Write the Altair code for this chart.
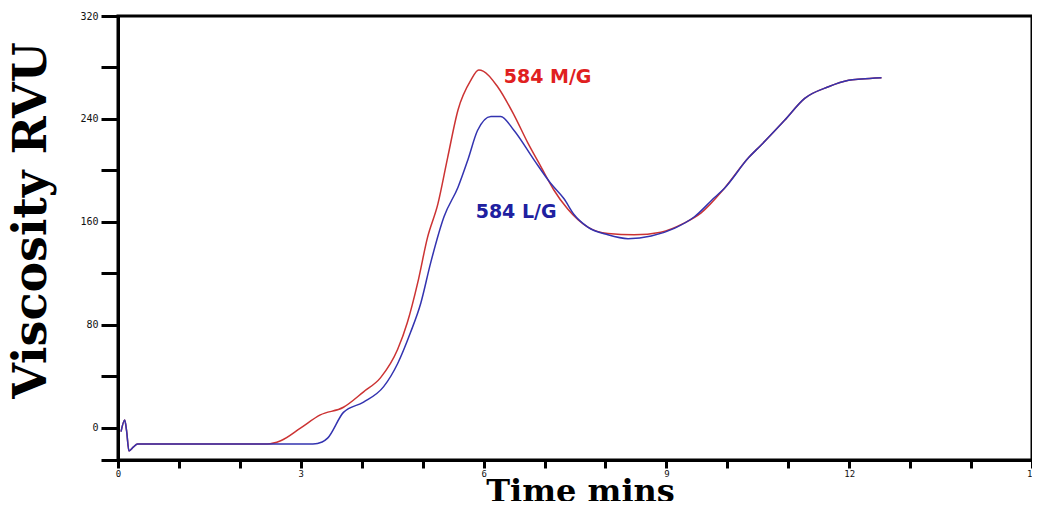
import altair as alt
import pandas as pd

# Series: 584 M/G (red)
mg_time = [0.05, 0.11, 0.14, 0.18, 0.25, 0.32, 1.0, 2.0, 2.45, 2.67, 3.0, 3.32, 3.7,
           4.03, 4.31, 4.59, 4.75, 4.92, 5.08, 5.25, 5.41, 5.58, 5.79, 5.92, 6.0,
           6.23, 6.5, 6.73, 6.94, 7.15, 7.38, 7.71, 8.04, 8.47, 8.91, 9.29, 9.57,
           9.95, 10.35, 10.56, 10.94, 11.27, 11.66, 11.99, 12.2, 12.53]
mg_visc = [-3, 6, -2, -18, -15, -12.5, -12.5, -12.5, -12.5, -10, 0, 10, 16,
           28, 39, 61, 82, 113, 148, 174, 210, 247, 270, 278, 277,
           265, 243, 221, 203, 185, 170, 156, 151, 150, 152, 159, 167,
           186, 210, 220, 239, 256, 265, 270, 271, 272]

# Series: 584 L/G (blue)
lg_time = [0.05, 0.11, 0.14, 0.18, 0.25, 0.32, 1.0, 2.0, 3.0, 3.2, 3.35, 3.44, 3.7,
           4.03, 4.36, 4.59, 4.8, 4.97, 5.13, 5.35, 5.58, 5.74, 5.9, 6.12, 6.28,
           6.5, 6.83, 7.1, 7.32, 7.48, 7.71, 8.04, 8.37, 8.75, 9.13, 9.46, 9.79,
           9.95, 10.35, 10.56, 10.94, 11.27, 11.66, 11.99, 12.2, 12.53]
lg_visc = [-3, 6, -2, -18, -15, -12.5, -12.5, -12.5, -12.5, -12.5, -11, -8, 12,
           20, 32, 50, 74, 97, 128, 164, 187, 208, 231, 242, 242,
           231, 208, 190, 178, 166, 156, 150, 147, 149, 155, 164, 179,
           186, 210, 220, 239, 256, 265, 270, 271, 272]

series_names = ["584 M/G", "584 L/G"]
line_colors = ["#cc3333", "#3333b0"]
text_colors = ["#e02020", "#2020a0"]

label_time = [6.33, 5.87]
label_visc = [268, 163]

x_ticks = list(range(0, 16))
y_ticks = [-25] + list(range(-20, 321, 20))

df = pd.concat([
    pd.DataFrame({"t": mg_time, "v": mg_visc, "s": series_names[0], "o": range(len(mg_time))}),
    pd.DataFrame({"t": lg_time, "v": lg_visc, "s": series_names[1], "o": range(len(lg_time))}),
])
labels = pd.DataFrame({"t": label_time, "v": label_visc, "s": series_names})

xscale = alt.Scale(domain=[0, 15], nice=False, zero=False)
yscale = alt.Scale(domain=[-25, 320], nice=False, zero=False)

lines = alt.Chart(df).mark_line(strokeWidth=1.5, interpolate="monotone").encode(
    x=alt.X("t:Q", scale=xscale, axis=alt.Axis(
        values=x_ticks, format="d",
        labelExpr="datum.value % 3 === 0 ? datum.label : ''",
        title="Time mins", titleFont="DejaVu Serif", titleFontWeight="bold",
        titleFontSize=32, titleColor="black", titleBaseline="alphabetic",
        titleY=41, titleX=462, titleAlign="center",
        tickSize=8, tickWidth=3, tickColor="black",
        domainWidth=3, domainColor="black",
        labelFont="DejaVu Sans Mono", labelFontSize=9, labelColor="#111",
        labelPadding=1, labelFlush=False, labelOverlap=False, grid=False)),
    y=alt.Y("v:Q", scale=yscale, axis=alt.Axis(
        values=y_ticks, format="d",
        labelExpr="datum.value % 80 === 0 ? datum.label : ''",
        title="Viscosity RVU", titleFont="DejaVu Serif", titleFontWeight="bold",
        titleFontSize=46, titleColor="black", titleBaseline="alphabetic",
        titleX=-73, titleY=204, titleAlign="center", titleAngle=270,
        tickSize=17, tickWidth=3, tickColor="black",
        domainWidth=3, domainColor="black",
        labelFont="DejaVu Sans Mono", labelFontSize=10, labelColor="#111",
        labelPadding=3, labelFlush=False, labelOverlap=False, grid=False)),
    color=alt.Color("s:N", scale=alt.Scale(domain=series_names, range=line_colors), legend=None),
    order="o:Q",
)

texts = alt.Chart(labels).mark_text(
    font="DejaVu Sans", fontWeight="bold", fontSize=19, align="left", baseline="alphabetic"
).encode(
    x=alt.X("t:Q", scale=xscale),
    y=alt.Y("v:Q", scale=yscale),
    text="s:N",
    color=alt.Color("s:N", scale=alt.Scale(domain=series_names, range=text_colors), legend=None),
)

chart = alt.layer(lines, texts).resolve_scale(color="independent").properties(
    width=914, height=444,
    autosize=alt.AutoSizeParams(type="none"),
    padding={"left": 110, "top": 8, "right": 0, "bottom": 41},
    background="white",
).configure_view(stroke="black", strokeWidth=3)

chart.save("out.html", embed_options={"renderer": "svg", "actions": False})
